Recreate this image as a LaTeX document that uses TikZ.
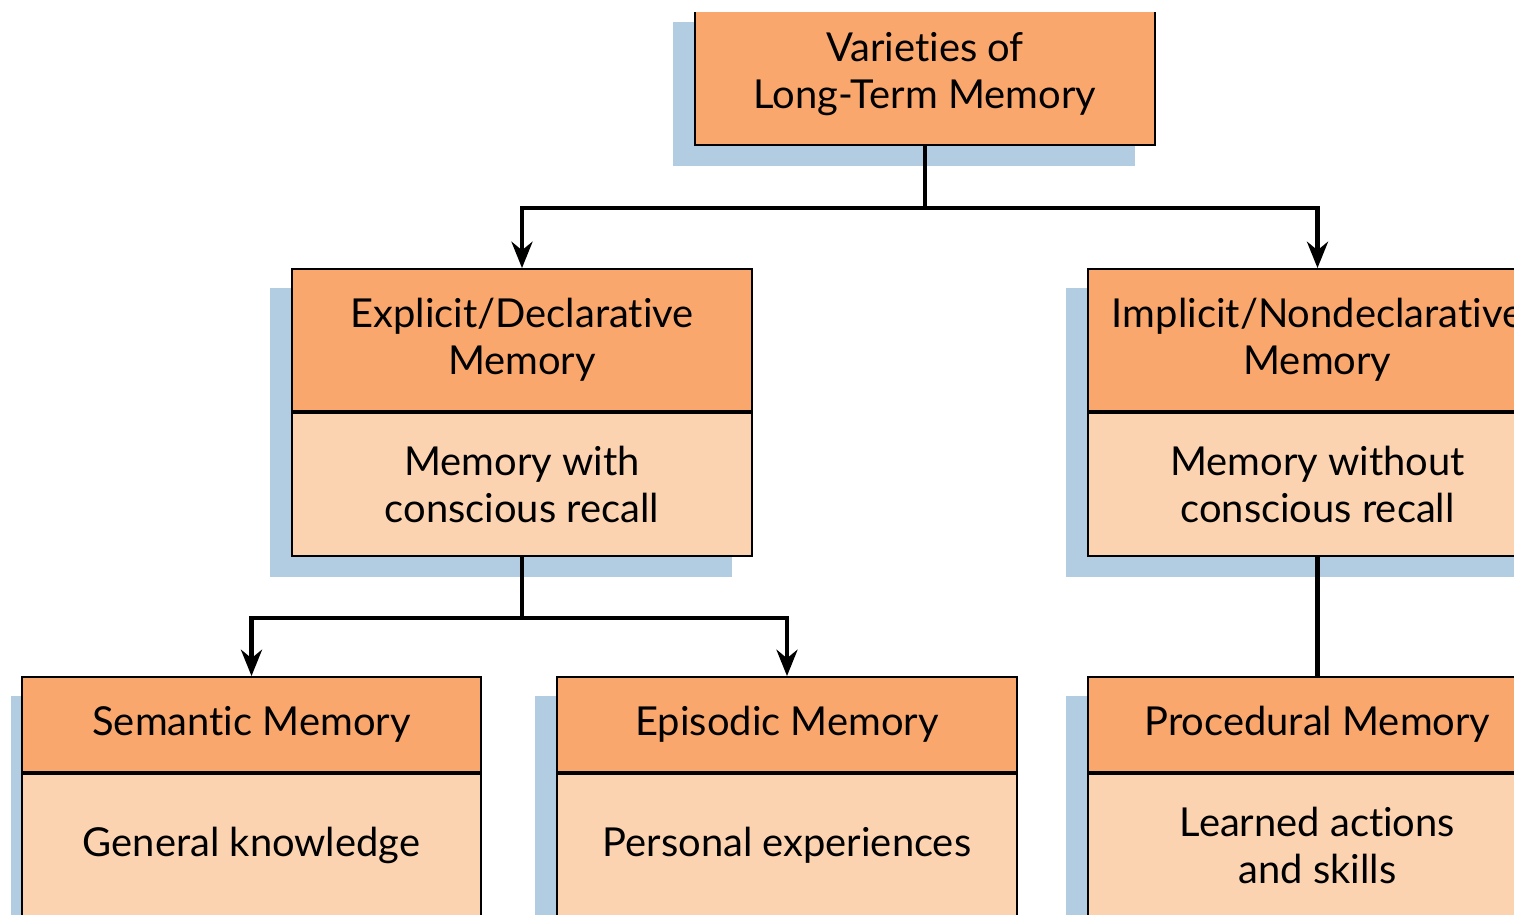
\documentclass[tikz,border=0pt]{standalone}
\usepackage{fontspec}
\setmainfont[RawFeature={-liga}]{Lato}
\usetikzlibrary{arrows.meta, positioning, calc, backgrounds}

\definecolor{hdorange}{HTML}{F9A76C}
\definecolor{bdorange}{HTML}{FCD3B1}
\definecolor{shblue}{HTML}{B2CCE2}

\tikzset{
  box/.style={draw=black, line width=1.1pt, minimum width=9.2cm, inner sep=0pt,
    align=center, font=\fontsize{22.7}{26.5}\selectfont},
  head/.style={box, fill=hdorange, minimum height=2.84cm},
  headone/.style={box, fill=hdorange, minimum height=1.9cm},
  body/.style={box, fill=bdorange, minimum height=2.86cm},
  link/.style={line width=2.3pt},
  arr/.style={link, -{Stealth[length=15pt,width=12pt]}}
}

\begin{document}
\begin{tikzpicture}[x=0.02cm, y=0.02cm]
\useasboundingbox (0,0) rectangle (1514,914);
\clip (0,0) rectangle (1514,901);

% top
\node[head] (ltm) at (925,840) {Varieties of\\Long-Term Memory};

% second row
\node[head] (exh) at (522,574) {Explicit/Declarative\\Memory};
\node[body, below=0pt of exh] (exb) {Memory with\\conscious recall};
\node[head] (imh) at (1317.5,574) {Implicit/Nondeclarative\\Memory};
\node[body, below=0pt of imh] (imb) {Memory without\\conscious recall};

% third row
\node[headone] (seh) at (251.5,189.5) {Semantic Memory};
\node[body, below=0pt of seh] (seb) {General knowledge};
\node[headone] (eph) at (787,189.5) {Episodic Memory};
\node[body, below=0pt of eph] (epb) {Personal experiences};
\node[headone] (prh) at (1317.5,189.5) {Procedural Memory};
\node[body, below=0pt of prh] (prb) {Learned actions\\and skills};

% shadows
\begin{scope}[on background layer]
\clip (11,0) rectangle (1514,914);
\foreach \h/\b in {ltm/ltm, exh/exb, imh/imb, seh/seb, eph/epb, prh/prb}
  \fill[shblue] ([shift={(-21,-20)}]\h.north west) rectangle ([shift={(-21,-20)}]\b.south east);
\end{scope}

% connections
\coordinate (split1) at ($(ltm.south)+(0,-62)$);
\coordinate (split2) at ($(exb.south)+(0,-61)$);
\draw[link] (ltm.south) -- (split1);
\draw[arr] (split1) -| (exh.north);
\draw[arr] (split1) -| (imh.north);
\draw[link] (exb.south) -- (split2);
\draw[arr] (split2) -| (seh.north);
\draw[arr] (split2) -| (eph.north);
\draw[link] (imb.south) -- (prh.north);
\end{tikzpicture}
\end{document}
